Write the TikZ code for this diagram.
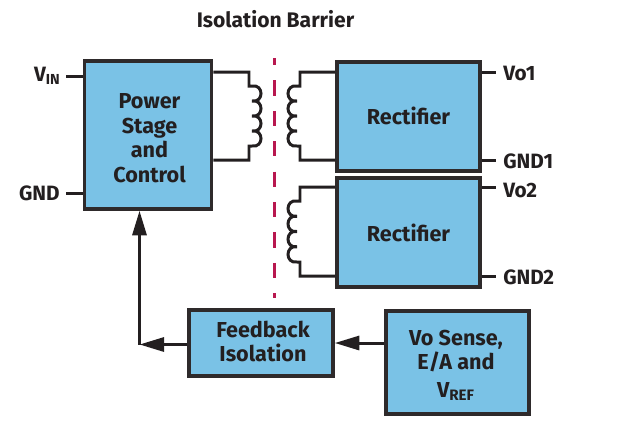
\documentclass[tikz,border=0pt]{standalone}
\usepackage{fontspec}
\setmainfont{Fira Sans}
\usepackage{xcolor}
\usetikzlibrary{arrows.meta}
\definecolor{boxblue}{HTML}{7AC2E6}
\definecolor{linegray}{HTML}{231F20}
\definecolor{barrierred}{HTML}{B8174F}
\tikzset{
  block/.style={rectangle,draw=linegray!95!white,fill=boxblue,line width=2pt,inner sep=0pt},
  blocktext/.style={inner sep=0pt,align=center,font=\bfseries\fontsize{12.3}{14}\selectfont,text=linegray},
  wire/.style={draw=linegray,line width=1.7pt},
  coil/.style={wire,miter limit=1.5},
  flow/.style={wire,-{Triangle[length=14pt,width=8pt]}},
  pinlabel/.style={inner sep=0pt,text height=8.2pt,text depth=0pt,font=\bfseries\fontsize{11.8}{14}\selectfont,text=linegray},
}
\begin{document}
\begin{tikzpicture}[x=.02cm,y=-.02cm]
  \useasboundingbox (0,0) rectangle (618,424);
  \node[block,minimum width=127*.02cm,minimum height=148*.02cm] (power) at (148,135) {};
  \node[block,minimum width=143*.02cm,minimum height=109*.02cm] (rect_1) at (408.5,116.5) {};
  \node[block,minimum width=143*.02cm,minimum height=109*.02cm] (rect_2) at (408.5,232.5) {};
  \node[block,minimum width=144*.02cm,minimum height=66*.02cm] (feedback) at (261,343) {};
  \node[block,minimum width=143*.02cm,minimum height=103*.02cm] (sense) at (457.5,362.5) {};

  \node[blocktext] (power_text) at (149.5,138) {Power\\Stage\\and\\Control};
  \node[blocktext] (rect_1_text) at (408.5,115.5) {Rectifier};
  \node[blocktext] (rect_2_text) at (408.5,232.5) {Rectifier};
  \node[blocktext] (feedback_text) at (263,341.5) {Feedback\\Isolation};
  \node[blocktext] (sense_text) at (456,365) {Vo Sense,\\E/A and\\[1.6pt]V\textsubscript{REF}};

  \node[pinlabel,anchor=center] (title) at (275.5,20) {\fontsize{12}{14}\selectfont Isolation Barrier};
  \node[pinlabel,anchor=east] (vin) at (61,74) {V\textsubscript{IN}};
  \node[pinlabel,anchor=east] (gnd) at (60,193.5) {GND};
  \node[pinlabel,anchor=west] (vo_1) at (503,73) {Vo1};
  \node[pinlabel,anchor=west] (gnd_1) at (503,161) {GND1};
  \node[pinlabel,anchor=west] (vo_2) at (503,190) {Vo2};
  \node[pinlabel,anchor=west] (gnd_2) at (503,277) {GND2};

  % short pins beside the labels
  \coordinate (vin_pin) at (66,76);
  \coordinate (gnd_pin) at (66,193);
  \coordinate (vo_1_pin) at (496,72);
  \coordinate (gnd_1_pin) at (496,160);
  \coordinate (vo_2_pin) at (496,187);
  \coordinate (gnd_2_pin) at (496,276);
  \foreach \p/\b in {vin/power.west,gnd/power.west}{
    \draw[wire] (\p_pin) -- (\b |- \p_pin);
  }
  \foreach \p/\b in {vo_1/rect_1.east,gnd_1/rect_1.east,vo_2/rect_2.east,gnd_2/rect_2.east}{
    \draw[wire] (\b |- \p_pin) -- (\p_pin);
  }

  % windings, four turns each, bulge set by \d
  \foreach \b/\xc/\ya/\yb/\d in {power.east/249/72/160/1,rect_1.west/300/72/160/-1,rect_2.west/300/187/276/-1}{
    \draw[coil] (\b |- 0,\ya) -- (\xc,\ya) -- (\xc,\ya+14) -- ++(\d*3,0)
      \foreach \k in {1,...,4}{
        .. controls +(\d*12,-2) and +(\d*12,2) .. ++(0,\yb/4-\ya/4-7)
      }
      -- (\xc,\yb-14) -- (\xc,\yb) -- (\b |- 0,\yb);
  }

  \draw[barrierred,line width=1.6pt,dash pattern=on 15.2*.02cm off 15.2*.02cm,dash phase=8*.02cm] (274.5,58) -- (274.5,298);

  \coordinate (corner) at (139.5,344.5);
  \draw[flow] (sense.west |- 0,343) -- (feedback.east |- 0,343);
  \draw[flow] (feedback.west |- corner) -- (corner);
  \draw[flow] (corner) -- (corner |- power.south);
\end{tikzpicture}
\end{document}
